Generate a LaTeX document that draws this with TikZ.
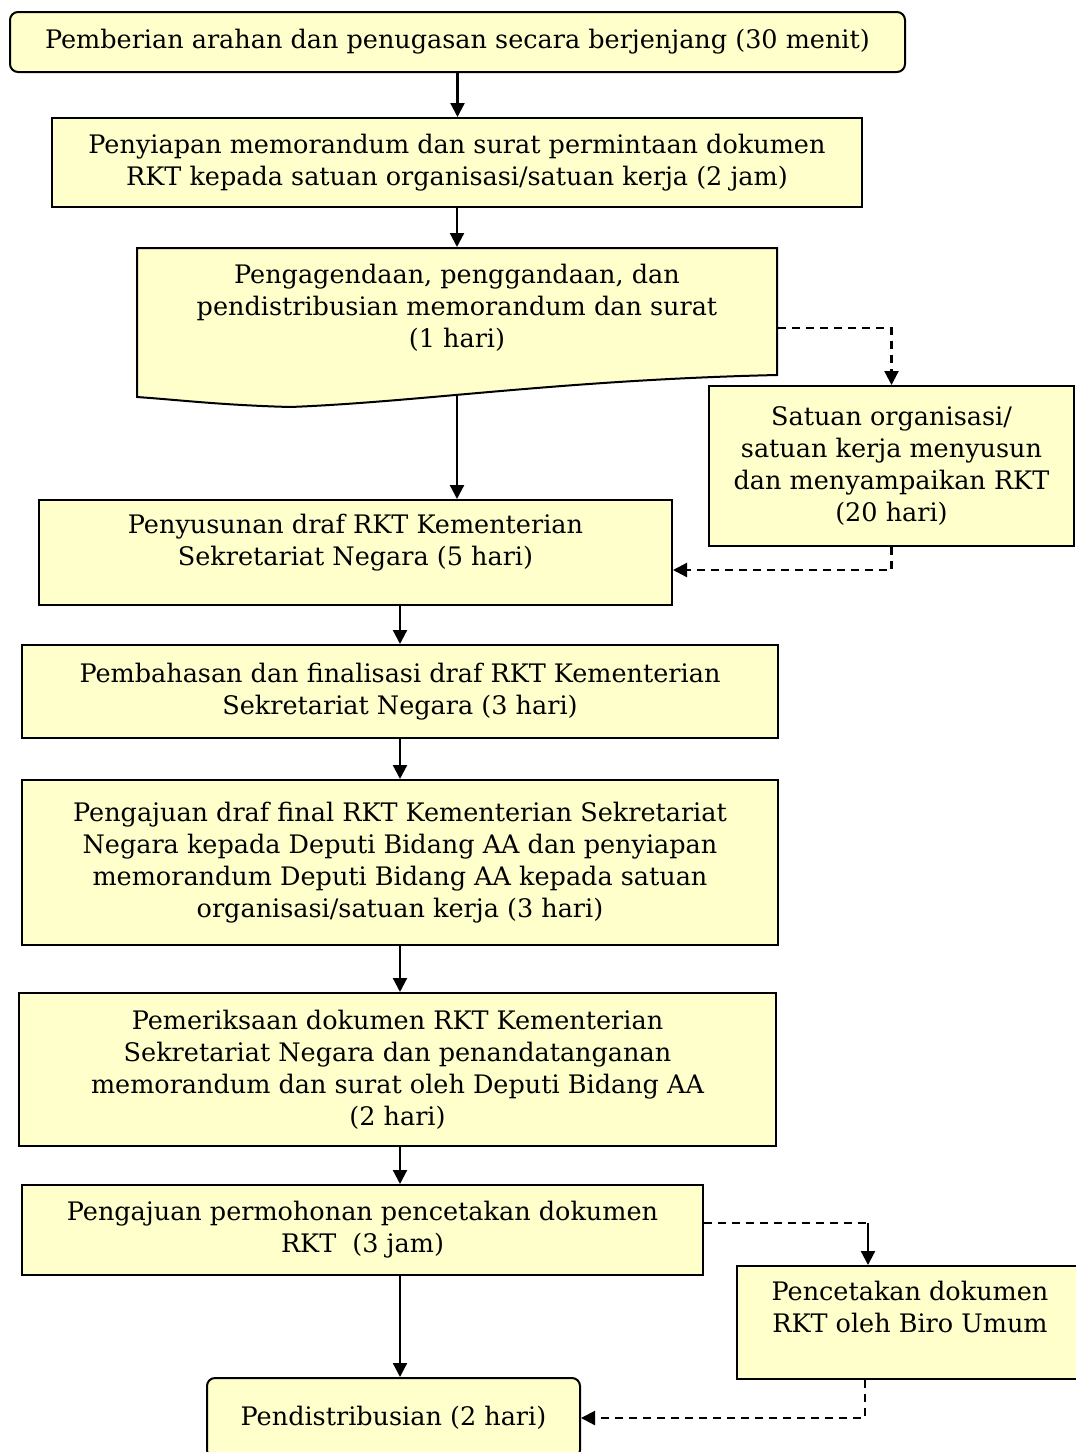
\documentclass[tikz,border=0pt]{standalone}
\usepackage{fontspec}
\setmainfont{DejaVu Serif}
\usepackage{tikz}
\usetikzlibrary{arrows,arrows.meta,shapes,positioning}
\usepackage{xcolor}
\definecolor{rktyellow}{RGB}{255,255,204}
\tikzstyle{process} = [rectangle, draw=black, fill=rktyellow, line width=2pt, align=center, inner sep=2pt, font=\fontsize{25.5}{32}\selectfont]
\tikzstyle{terminal} = [process, rounded corners=8pt]
\tikzstyle{doctext} = [process, draw=none, fill=none]
\tikzstyle{arrow} = [line width=2.2pt, -{Triangle[length=14pt,width=14pt]}]
\tikzstyle{dashline} = [line width=2.2pt, dash pattern=on 8pt off 6pt]
\tikzstyle{dasharrow} = [arrow, dash pattern=on 8pt off 6pt]

\begin{document}
\begin{tikzpicture}[x=1pt, y=-1pt]
\clip (0,0) rectangle (1076,1452);
\fill[white] (0,0) rectangle (1076,1452);
% Steps
\node (arahan) [terminal, minimum width=895pt, minimum height=60pt] at (457.5,42)
  {Pemberian arahan dan penugasan secara berjenjang (30 menit)};

\node (penyiapan) [process, minimum width=810pt, minimum height=89pt] at (457,162.5)
  {Penyiapan memorandum dan surat permintaan dokumen\\RKT kepada satuan organisasi/satuan kerja (2 jam)};

% document shape
\draw[line width=2pt, fill=rktyellow] (137,248) -- (777,248) -- (777,375)
  .. controls (560,380) and (420,402) .. (290,407)
  .. controls (220,405) and (180,400) .. (137,397) -- cycle;
\node (agenda) [doctext, minimum width=640pt, minimum height=147pt] at (457,321.5)
  {Pengagendaan, penggandaan, dan\\pendistribusian memorandum dan surat\\(1 hari)\\\mbox{}};

\node (satuan) [process, minimum width=365pt, minimum height=160pt] at (891.5,466)
  {Satuan organisasi/\\satuan kerja menyusun\\dan menyampaikan RKT\\(20 hari)};

\node (penyusunan) [process, minimum width=633pt, minimum height=105pt] at (355.5,552.5)
  {Penyusunan draf RKT Kementerian\\Sekretariat Negara (5 hari)\\[-6pt]\mbox{}};

\node (pembahasan) [process, minimum width=756pt, minimum height=93pt] at (400,691.5)
  {Pembahasan dan finalisasi draf RKT Kementerian\\Sekretariat Negara (3 hari)};

\node (pengajuan) [process, minimum width=756pt, minimum height=165pt] at (400,862.5)
  {Pengajuan draf final RKT Kementerian Sekretariat\\Negara kepada Deputi Bidang AA dan penyiapan\\memorandum Deputi Bidang AA kepada satuan\\organisasi/satuan kerja (3 hari)};

\node (pemeriksaan) [process, minimum width=757pt, minimum height=153pt] at (397.5,1069.5)
  {Pemeriksaan dokumen RKT Kementerian\\Sekretariat Negara dan penandatanganan\\memorandum dan surat oleh Deputi Bidang AA\\(2 hari)};

\node (permohonan) [process, minimum width=681pt, minimum height=90pt] at (362.5,1230)
  {Pengajuan permohonan pencetakan dokumen\\RKT~~(3 jam)};

\node (pencetakan) [process, minimum width=346pt, minimum height=113pt] at (910,1322.5)
  {Pencetakan dokumen\\RKT oleh Biro Umum\\\mbox{}};

\node (distribusi) [terminal, minimum width=373pt, minimum height=80pt] at (393.5,1418)
  {Pendistribusian (2 hari)};

\coordinate (cetakin) at (868,1223);

% Arrows
\draw[arrow] (arahan.south) -- (arahan.south |- penyiapan.north);
\draw[arrow] (penyiapan.south) -- (penyiapan.south |- agenda.north);
\draw[arrow] (agenda.south) -- (agenda.south |- penyusunan.north);
\draw[dasharrow] ([yshift=-6.5pt]agenda.east) -| (satuan.north);
\draw[dasharrow] (satuan.south) |- ([yshift=-17.5pt]penyusunan.east);
\draw[arrow] (pembahasan.north |- penyusunan.south) -- (pembahasan.north);
\draw[arrow] (pembahasan) -- (pengajuan);
\draw[arrow] (pengajuan.south) -- (pengajuan.south |- pemeriksaan.north);
\draw[arrow] (pengajuan.south |- pemeriksaan.south) -- (pengajuan.south |- permohonan.north);
\draw[arrow] (pengajuan.south |- permohonan.south) -- (pengajuan.south |- distribusi.north);
\draw[dashline] ([yshift=7pt]permohonan.east) -- (cetakin);
\draw[arrow] (cetakin) -- (cetakin |- pencetakan.north);
\draw[dasharrow] ([xshift=-45pt]pencetakan.south) |- (distribusi.east);
\end{tikzpicture}
\end{document}
